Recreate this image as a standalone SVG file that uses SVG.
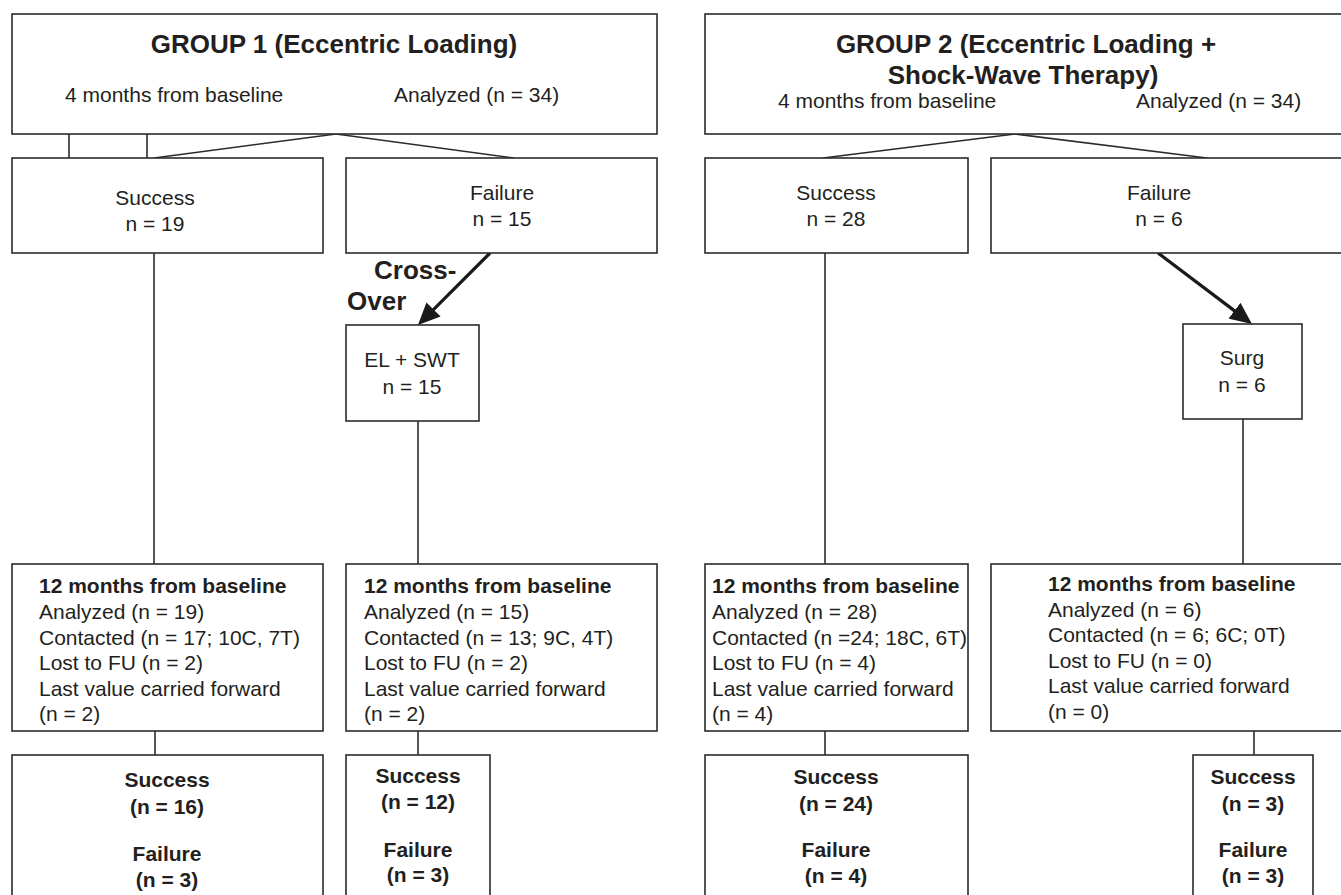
<svg xmlns="http://www.w3.org/2000/svg" width="1341" height="895" viewBox="0 0 1341 895">
<style>
.box{fill:#fff;stroke:#2b2b2b;stroke-width:1.6}
.ln{fill:none;stroke:#2b2b2b;stroke-width:1.6}
.arr{fill:none;stroke:#1a1a1a;stroke-width:3.2}
text{font-family:"Liberation Sans",Arial,Helvetica,sans-serif;fill:#231f20;font-size:21px}
.c{text-anchor:middle}
.b{font-weight:bold}
.t{font-weight:bold;font-size:26px}
</style>
<defs>
<marker id="ah" viewBox="0 0 22 20" markerWidth="22" markerHeight="20" refX="16" refY="10" orient="auto" markerUnits="userSpaceOnUse">
<path d="M0,0 L22,10 L0,20 z" fill="#1a1a1a"/>
</marker>
</defs>
<rect width="1341" height="895" fill="#fff"/>
<g id="connectors">
<line class="ln" x1="336" y1="134" x2="154" y2="158"/>
<line class="ln" x1="336" y1="134" x2="514" y2="158"/>
<line class="ln" x1="69" y1="134" x2="69" y2="158"/>
<line class="ln" x1="147" y1="134" x2="147" y2="158"/>
<line class="ln" x1="1015" y1="134" x2="823" y2="158"/>
<line class="ln" x1="1015" y1="134" x2="1207" y2="158"/>
<line class="ln" x1="154" y1="253" x2="154" y2="564"/>
<line class="ln" x1="418" y1="421" x2="418" y2="564"/>
<line class="ln" x1="825" y1="253" x2="825" y2="564"/>
<line class="ln" x1="1243" y1="419" x2="1243" y2="564"/>
<line class="ln" x1="155" y1="731" x2="155" y2="755"/>
<line class="ln" x1="418" y1="731" x2="418" y2="755"/>
<line class="ln" x1="825" y1="731" x2="825" y2="755"/>
<line class="ln" x1="1254" y1="731" x2="1254" y2="755"/>
<line class="arr" x1="490" y1="253" x2="422.2" y2="320.8" marker-end="url(#ah)"/>
<line class="arr" x1="1158" y1="253" x2="1247.2" y2="320.4" marker-end="url(#ah)"/>
</g>
<g id="g1-header">
<rect class="box" x="12" y="14" width="645" height="120"/>
<text class="t c" x="334" y="53">GROUP 1 (Eccentric Loading)</text>
<text x="65" y="102">4 months from baseline</text>
<text x="394" y="102">Analyzed (n = 34)</text>
</g>
<g id="g2-header">
<rect class="box" x="705" y="14" width="645" height="120"/>
<text class="t c" x="1026" y="53">GROUP 2 (Eccentric Loading +</text>
<text class="t c" x="1023" y="84">Shock-Wave Therapy)</text>
<text x="778" y="108">4 months from baseline</text>
<text x="1136" y="108">Analyzed (n = 34)</text>
</g>
<g id="g1-success">
<rect class="box" x="12" y="158" width="311" height="95"/>
<text class="c" x="155" y="205">Success</text>
<text class="c" x="155" y="231">n = 19</text>
</g>
<g id="g1-failure">
<rect class="box" x="346" y="158" width="311" height="95"/>
<text class="c" x="502" y="200">Failure</text>
<text class="c" x="502" y="226">n = 15</text>
</g>
<g id="g2-success">
<rect class="box" x="705" y="158" width="263" height="95"/>
<text class="c" x="836" y="200">Success</text>
<text class="c" x="836" y="226">n = 28</text>
</g>
<g id="g2-failure">
<rect class="box" x="991" y="158" width="360" height="95"/>
<text class="c" x="1159" y="200">Failure</text>
<text class="c" x="1159" y="226">n = 6</text>
</g>
<g id="crossover-label">
<text class="t" x="374" y="279">Cross-</text>
<text class="t" x="347" y="310">Over</text>
</g>
<g id="el-swt">
<rect class="box" x="346" y="325" width="133" height="96"/>
<text class="c" x="412" y="367">EL + SWT</text>
<text class="c" x="412" y="394">n = 15</text>
</g>
<g id="surg">
<rect class="box" x="1183" y="324" width="119" height="95"/>
<text class="c" x="1242" y="365">Surg</text>
<text class="c" x="1242" y="392">n = 6</text>
</g>
<g id="g1-12m-success">
<rect class="box" x="12" y="564" width="311" height="167"/>
<text class="b" x="39" y="593">12 months from baseline</text>
<text x="39" y="619">Analyzed (n = 19)</text>
<text x="39" y="644.5">Contacted (n = 17; 10C, 7T)</text>
<text x="39" y="670">Lost to FU (n = 2)</text>
<text x="39" y="695.5">Last value carried forward</text>
<text x="39" y="721">(n = 2)</text>
</g>
<g id="g1-12m-crossover">
<rect class="box" x="346" y="564" width="311" height="167"/>
<text class="b" x="364" y="593">12 months from baseline</text>
<text x="364" y="619">Analyzed (n = 15)</text>
<text x="364" y="644.5">Contacted (n = 13; 9C, 4T)</text>
<text x="364" y="670">Lost to FU (n = 2)</text>
<text x="364" y="695.5">Last value carried forward</text>
<text x="364" y="721">(n = 2)</text>
</g>
<g id="g2-12m-success">
<rect class="box" x="705" y="564" width="263" height="167"/>
<text class="b" x="712" y="593">12 months from baseline</text>
<text x="712" y="619">Analyzed (n = 28)</text>
<text x="712" y="644.5">Contacted (n =24; 18C, 6T)</text>
<text x="712" y="670">Lost to FU (n = 4)</text>
<text x="712" y="695.5">Last value carried forward</text>
<text x="712" y="721">(n = 4)</text>
</g>
<g id="g2-12m-surg">
<rect class="box" x="991" y="564" width="360" height="167"/>
<text class="b" x="1048" y="591">12 months from baseline</text>
<text x="1048" y="616.5">Analyzed (n = 6)</text>
<text x="1048" y="642">Contacted (n = 6; 6C; 0T)</text>
<text x="1048" y="667.5">Lost to FU (n = 0)</text>
<text x="1048" y="693">Last value carried forward</text>
<text x="1048" y="718.5">(n = 0)</text>
</g>
<g id="g1-final-success">
<rect class="box" x="12" y="755" width="311" height="150"/>
<text class="b c" x="167" y="787">Success</text>
<text class="b c" x="167" y="814">(n = 16)</text>
<text class="b c" x="167" y="861">Failure</text>
<text class="b c" x="167" y="887">(n = 3)</text>
</g>
<g id="g1-final-crossover">
<rect class="box" x="346" y="755" width="144" height="150"/>
<text class="b c" x="418" y="783">Success</text>
<text class="b c" x="418" y="809">(n = 12)</text>
<text class="b c" x="418" y="856.5">Failure</text>
<text class="b c" x="418" y="882">(n = 3)</text>
</g>
<g id="g2-final-success">
<rect class="box" x="705" y="755" width="263" height="150"/>
<text class="b c" x="836" y="784">Success</text>
<text class="b c" x="836" y="811">(n = 24)</text>
<text class="b c" x="836" y="857">Failure</text>
<text class="b c" x="836" y="883">(n = 4)</text>
</g>
<g id="g2-final-surg">
<rect class="box" x="1193" y="755" width="120" height="150"/>
<text class="b c" x="1253" y="784">Success</text>
<text class="b c" x="1253" y="811">(n = 3)</text>
<text class="b c" x="1253" y="857">Failure</text>
<text class="b c" x="1253" y="883">(n = 3)</text>
</g>
</svg>
